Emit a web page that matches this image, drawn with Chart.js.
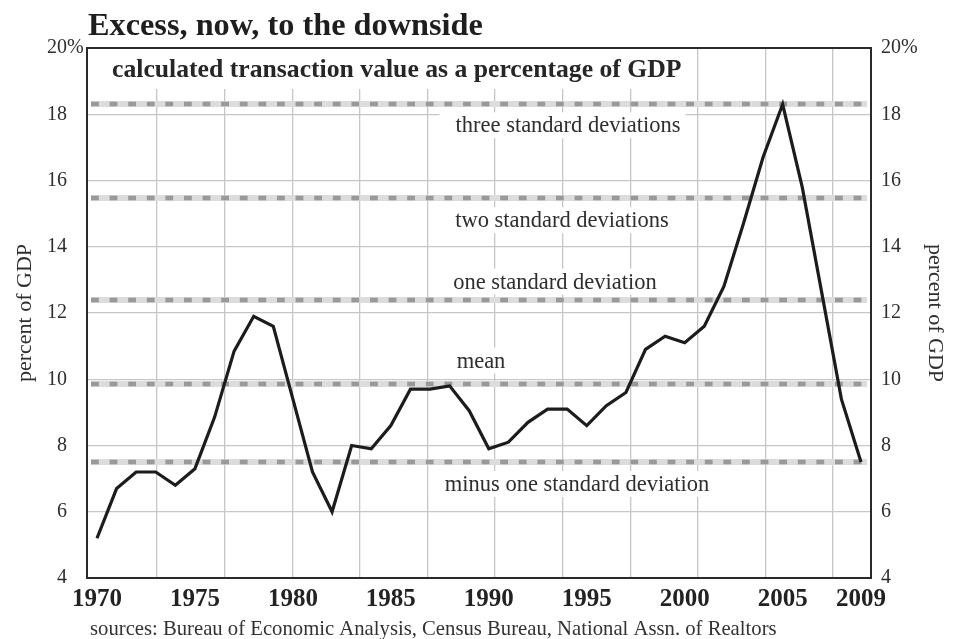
<!DOCTYPE html>
<html>
<head>
<meta charset="utf-8">
<script src="https://cdn.jsdelivr.net/npm/chart.js@4/dist/chart.umd.min.js"></script>
<style>
  html, body { margin: 0; padding: 0; background: #fff; }
  #wrap { width: 956px; height: 639px; position: relative; }
</style>
</head>
<body>
<div id="wrap"><canvas id="chart" width="956" height="639"></canvas></div>
<script>
// Housing transaction value as a share of GDP, annual
const years = [
  1970, 1971, 1972, 1973, 1974, 1975, 1976, 1977, 1978, 1979,
  1980, 1981, 1982, 1983, 1984, 1985, 1986, 1987, 1988, 1989,
  1990, 1991, 1992, 1993, 1994, 1995, 1996, 1997, 1998, 1999,
  2000, 2001, 2002, 2003, 2004, 2005, 2006, 2007, 2008, 2009
];
const transactionValue = [
  5.2, 6.7, 7.2, 7.2, 6.8, 7.3, 8.85, 10.85, 11.9, 11.6,
  9.4, 7.2, 6.0, 8.0, 7.9, 8.6, 9.7, 9.7, 9.8, 9.05,
  7.9, 8.1, 8.7, 9.1, 9.1, 8.6, 9.2, 9.6, 10.9, 11.3,
  11.1, 11.6, 12.8, 14.7, 16.7, 18.3, 15.8, 12.6, 9.4, 7.5
];

// Reference levels (mean and standard-deviation bands)
const refLevels = [18.3, 15.48, 12.39, 9.87, 7.5];
const refLabels = [
  'three standard deviations',
  'two standard deviations',
  'one standard deviation',
  'mean',
  'minus one standard deviation'
];

// Axis ticks
const yearTicks = [1970, 1975, 1980, 1985, 1990, 1995, 2000, 2005, 2009];
const pctTicks = [4, 6, 8, 10, 12, 14, 16, 18, 20];

// Text strings
const titleText = 'Excess, now, to the downside';
const subtitleText = 'calculated transaction value as a percentage of GDP';
const sourceText = 'sources: Bureau of Economic Analysis, Census Bureau, National Assn. of Realtors';
const axisTitle = 'percent of GDP';

// Label placement (pixel centre x, baseline offset from its level)
const labelCenterX = [568, 562, 555, 481, 577];
const labelBaselineOffset = [28, 29.5, -11.5, -16, 29];

const SERIF = '"Liberation Serif", "Times New Roman", serif';
const labelFont = '22.5px ' + SERIF;

const decor = {
  id: 'decor',
  beforeDatasetsDraw(chart) {
    const { ctx, chartArea: a, scales } = chart;
    const ys = scales.y;
    ctx.save();

    // white panels behind the subtitle and the level captions
    ctx.fillStyle = '#ffffff';
    ctx.fillRect(a.left + 1, a.top + 1, 690 - a.left, 40);
    ctx.font = labelFont;
    refLabels.forEach((txt, i) => {
      const w = ctx.measureText(txt).width;
      const base = ys.getPixelForValue(refLevels[i]) + labelBaselineOffset[i];
      ctx.fillRect(labelCenterX[i] - w / 2 - 16, base - 20, w + 21, 26);
    });

    // subtitle
    ctx.fillStyle = '#262626';
    ctx.font = 'bold 25.7px ' + SERIF;
    ctx.textAlign = 'left';
    ctx.textBaseline = 'alphabetic';
    ctx.fillText(subtitleText, 112, 77);

    // level captions
    ctx.font = labelFont;
    ctx.textAlign = 'center';
    ctx.fillStyle = '#2e2e2e';
    refLabels.forEach((txt, i) => {
      const base = ys.getPixelForValue(refLevels[i]) + labelBaselineOffset[i];
      ctx.fillText(txt, labelCenterX[i], base);
    });

    // dashed reference bands
    const x0 = a.left + 4, x1 = a.right - 4;
    refLevels.forEach(v => {
      const y = Math.round(ys.getPixelForValue(v));
      ctx.fillStyle = '#dcdcdc';
      ctx.fillRect(x0, y - 3, x1 - x0, 6);
      ctx.fillStyle = '#999999';
      for (let x = x0; x < x1; x += 18.6) {
        ctx.fillRect(x, y - 2.3, Math.min(7.8, x1 - x), 4.6);
      }
    });

    // plot frame
    ctx.strokeStyle = '#2a2a2a';
    ctx.lineWidth = 2;
    ctx.strokeRect(a.left, a.top, a.right - a.left, a.bottom - a.top);
    ctx.restore();
  },
  afterDraw(chart) {
    const { ctx, scales } = chart;
    const ys = scales.y;
    ctx.save();
    ctx.textAlign = 'left';
    ctx.textBaseline = 'alphabetic';
    ctx.fillStyle = '#1e1e1e';
    ctx.font = 'bold 32.3px ' + SERIF;
    ctx.fillText(titleText, 88, 35);

    ctx.fillStyle = '#333333';
    ctx.font = '20.7px ' + SERIF;
    ctx.fillText(sourceText, 90, 635);

    // percent sign after the top left tick
    ctx.font = '20px ' + SERIF;
    ctx.textBaseline = 'middle';
    ctx.fillStyle = '#2e2e2e';
    ctx.fillText('%', 67, ys.getPixelForValue(20));
    ctx.restore();
  }
};

const tickFont = { family: SERIF, size: 20 };

new Chart(document.getElementById('chart'), {
  type: 'line',
  data: {
    datasets: [{
      data: years.map((y, i) => ({ x: y, y: transactionValue[i] })),
      borderColor: '#1c1c1c',
      borderWidth: 3.2,
      borderJoinStyle: 'miter',
      pointRadius: 0,
      tension: 0,
      xAxisID: 'x',
      yAxisID: 'y'
    }]
  },
  options: {
    responsive: false,
    animation: false,
    layout: { padding: { top: 48, left: 0, right: 0, bottom: 0 } },
    plugins: { legend: { display: false }, tooltip: { enabled: false }, title: { display: false } },
    scales: {
      x: {
        type: 'linear',
        position: 'bottom',
        min: 1969.49,
        max: 2009.51,
        afterBuildTicks: s => { s.ticks = yearTicks.map(v => ({ value: v })); },
        afterFit: s => { s.height = 61; },
        grid: { display: false, drawTicks: false },
        border: { display: false },
        ticks: {
          autoSkip: false,
          maxRotation: 0,
          padding: 7,
          color: '#222222',
          font: { family: SERIF, size: 25, weight: 'bold' },
          callback: v => String(v)
        }
      },
      xGrid: {
        type: 'linear',
        position: 'bottom',
        min: -0.0355,
        max: 11.562,
        afterBuildTicks: s => { s.ticks = [1,2,3,4,5,6,7,8,9,10,11].map(v => ({ value: v })); },
        afterFit: s => { s.height = 0; },
        grid: { color: '#c6c6c6', lineWidth: 1.3, drawTicks: false },
        border: { display: false },
        ticks: { display: false }
      },
      y: {
        position: 'left',
        min: 4,
        max: 20,
        afterBuildTicks: s => { s.ticks = pctTicks.map(v => ({ value: v })); },
        afterFit: s => { s.width = 87; },
        grid: { color: '#c6c6c6', lineWidth: 1.3, drawTicks: false },
        border: { display: false },
        ticks: { padding: 20, color: '#2e2e2e', font: tickFont, callback: v => String(v) },
        title: { display: true, text: axisTitle, color: '#2e2e2e', font: { family: SERIF, size: 22 }, padding: { top: 12, bottom: 0 } }
      },
      y2: {
        position: 'right',
        min: 4,
        max: 20,
        afterBuildTicks: s => { s.ticks = pctTicks.map(v => ({ value: v })); },
        afterFit: s => { s.width = 85; },
        grid: { display: false, drawTicks: false },
        border: { display: false },
        ticks: { padding: 10, color: '#2e2e2e', font: tickFont, callback: v => (v === 20 ? '20%' : String(v)) },
        title: { display: true, text: axisTitle, color: '#2e2e2e', font: { family: SERIF, size: 22 }, padding: { top: 8, bottom: 0 } }
      }
    }
  },
  plugins: [decor]
});
</script>
</body>
</html>
